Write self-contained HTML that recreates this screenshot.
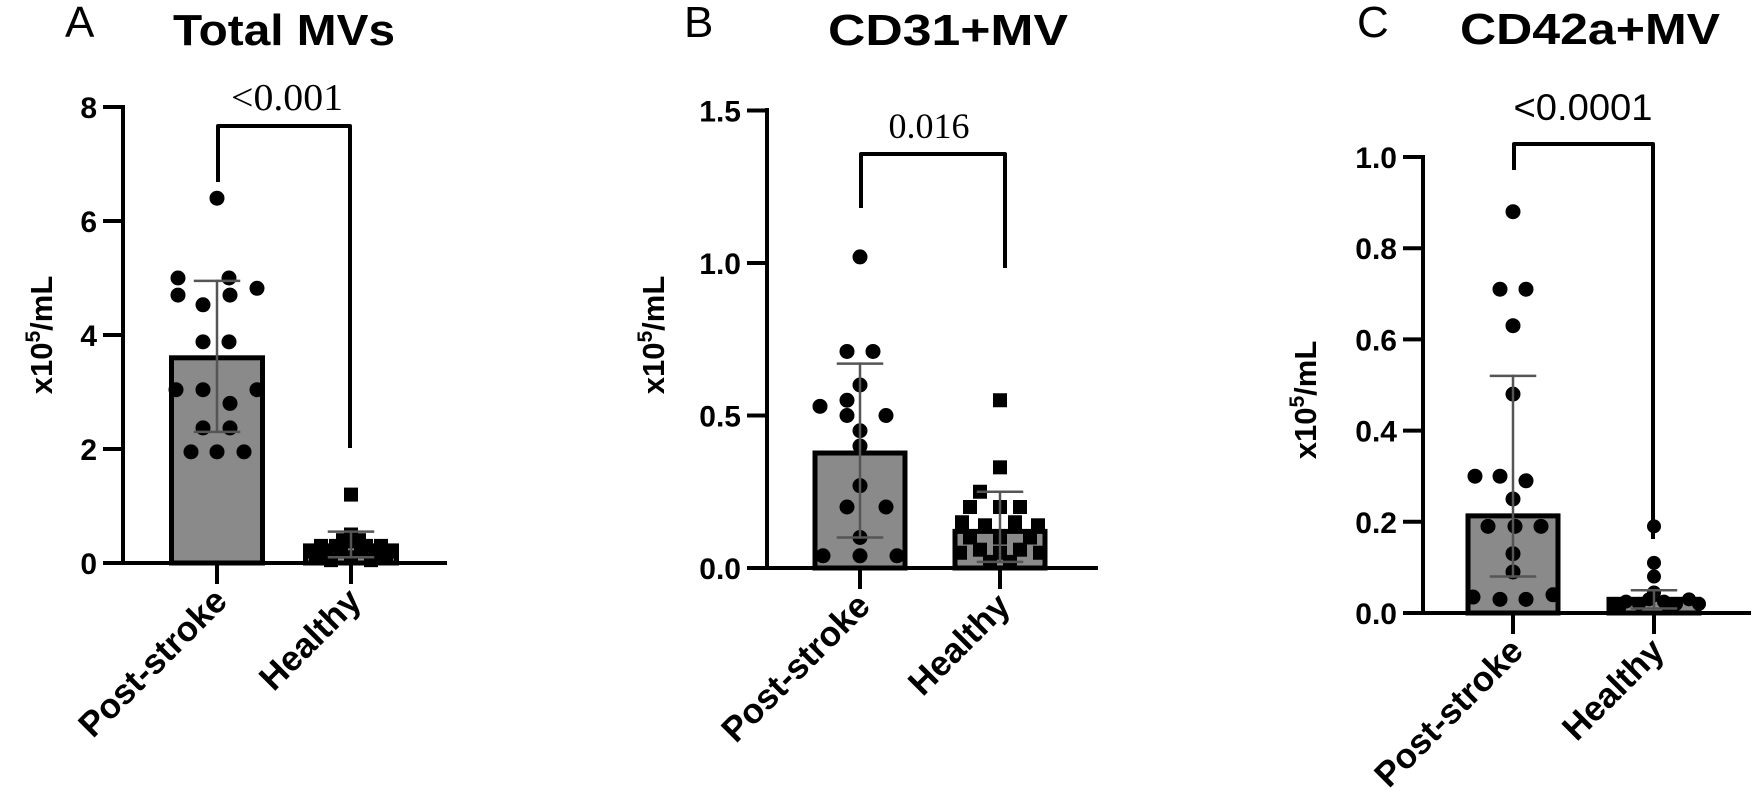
<!DOCTYPE html>
<html><head><meta charset="utf-8"><style>
html,body{margin:0;padding:0;background:#fff;}
svg{display:block;}
text{font-family:"Liberation Sans",Arial,sans-serif;}
</style></head><body>
<svg id="s" width="1756" height="802" viewBox="0 0 1756 802" xmlns="http://www.w3.org/2000/svg">
<text x="65" y="37" font-size="44">A</text>
<text x="173" y="45" font-size="44" font-weight="bold" textLength="222" lengthAdjust="spacingAndGlyphs">Total MVs</text>
<text x="684" y="37" font-size="44">B</text>
<text x="828" y="45" font-size="44" font-weight="bold" textLength="240" lengthAdjust="spacingAndGlyphs">CD31+MV</text>
<text x="1357" y="37" font-size="44">C</text>
<text x="1460" y="44" font-size="44" font-weight="bold" textLength="260" lengthAdjust="spacingAndGlyphs">CD42a+MV</text>
<text transform="translate(52,335) rotate(-90)" text-anchor="middle" font-size="31" font-weight="bold">x10<tspan dy="-12" font-size="21">5</tspan><tspan dy="12">/mL</tspan></text>
<text transform="translate(664,335) rotate(-90)" text-anchor="middle" font-size="31" font-weight="bold">x10<tspan dy="-12" font-size="21">5</tspan><tspan dy="12">/mL</tspan></text>
<text transform="translate(1316,400) rotate(-90)" text-anchor="middle" font-size="31" font-weight="bold">x10<tspan dy="-12" font-size="21">5</tspan><tspan dy="12">/mL</tspan></text>
<text x="287" y="110" text-anchor="middle" font-size="38" style="font-family:'Liberation Serif',serif" textLength="112" lengthAdjust="spacingAndGlyphs">&lt;0.001</text>
<text x="929" y="138" text-anchor="middle" font-size="36" style="font-family:'Liberation Serif',serif">0.016</text>
<text x="1583" y="120" text-anchor="middle" font-size="37" textLength="139" lengthAdjust="spacingAndGlyphs">&lt;0.0001</text>
</svg>
<script>
var S=document.getElementById('s'),NS='http://www.w3.org/2000/svg';
function el(t,a,txt){var e=document.createElementNS(NS,t);for(var k in a)e.setAttribute(k,a[k]);if(txt!==undefined)e.textContent=txt;S.appendChild(e);return e;}
function line(x1,y1,x2,y2,w,c){el('line',{x1:x1,y1:y1,x2:x2,y2:y2,stroke:c||'#000','stroke-width':w||4,'stroke-linecap':'square'});}
function panel(p){
  var Y=function(v){return p.y0-v*p.s;};
  [[p.pc,p.m1],[p.hc,p.m2]].forEach(function(b){
    el('rect',{x:b[0]-p.bw/2,y:Y(b[1]),width:p.bw,height:p.y0-Y(b[1]),fill:'#8a8a8a',stroke:'#000','stroke-width':5});
  });
  p.p1.forEach(function(d){el('circle',{cx:p.pc+d[0],cy:Y(d[1]),r:7.5,fill:'#000'});});
  p.p2.forEach(function(d){
    if(p.sq) el('rect',{x:p.hc+d[0]-7,y:Y(d[1])-7,width:14,height:14,fill:'#000'});
    else el('circle',{cx:p.hc+d[0],cy:Y(d[1]),r:7,fill:'#000'});
  });
  [[p.pc,p.e1],[p.hc,p.e2]].forEach(function(b){
    line(b[0],Y(b[1][0]),b[0],Y(b[1][1]),2.5,'#555');
    line(b[0]-22,Y(b[1][1]),b[0]+22,Y(b[1][1]),2.5,'#555');
    line(b[0]-22,Y(b[1][0]),b[0]+22,Y(b[1][0]),2.5,'#555');
  });
  line(p.ax,p.top,p.ax,p.y0,4);
  line(p.ax,p.y0,p.xend,p.y0,4);
  p.ticks.forEach(function(t){
    line(p.ax-18,Y(t[0]),p.ax,Y(t[0]),4);
    el('text',{x:p.ax-26,y:Y(t[0])+11,'text-anchor':'end','font-size':30,'font-weight':'bold'},t[1]);
  });
  line(p.pc,p.y0,p.pc,p.y0+19,4);line(p.hc,p.y0,p.hc,p.y0+19,4);
  el('text',{transform:'translate('+(p.pc+12)+','+(p.y0+40)+') rotate(-45)','text-anchor':'end','font-size':35,'font-weight':'bold'},'Post-stroke');
  el('text',{transform:'translate('+(p.hc+12)+','+(p.y0+40)+') rotate(-45)','text-anchor':'end','font-size':35,'font-weight':'bold'},'Healthy');
  var b=p.br;
  el('path',{d:'M'+b[0]+' '+b[1]+' L'+b[0]+' '+b[2]+' L'+b[3]+' '+b[2]+' L'+b[3]+' '+b[4],fill:'none',stroke:'#000','stroke-width':4,'stroke-linejoin':'round'});
}
panel({ax:123,y0:563,s:57,top:107,xend:445,pc:217,hc:351,bw:91,m1:3.6,m2:0.3,e1:[2.3,4.95],e2:[0.1,0.55],sq:true,
 ticks:[[0,'0'],[2,'2'],[4,'4'],[6,'6'],[8,'8']],br:[218,182,126,350,448],
 p1:[[0,6.4],[-39,5.0],[12,5.0],[40,4.82],[-39,4.7],[13,4.7],[-14,4.53],[-14,3.88],[12,3.88],[-41,3.04],[-14,3.04],[40,3.04],[13,2.8],[-14,2.37],[13,2.37],[-26,1.95],[0,1.95],[27,1.95]],
 p2:[[0,1.2],[0,0.5],[-8,0.4],[8,0.4],[-30,0.3],[-15,0.3],[15,0.3],[30,0.3],[-40,0.2],[-25,0.15],[-10,0.2],[10,0.2],[25,0.15],[40,0.2],[-35,0.1],[0,0.1],[35,0.1],[-20,0.05],[20,0.05]]});
panel({ax:767,y0:568,s:305,top:110,xend:1096,pc:860,hc:1000,bw:90,m1:0.377,m2:0.12,e1:[0.10,0.67],e2:[0.02,0.25],sq:true,
 ticks:[[0,'0.0'],[0.5,'0.5'],[1,'1.0'],[1.5,'1.5']],br:[861,208,154,1005,268],
 p1:[[0,1.02],[-13,0.71],[13,0.71],[0,0.60],[-40,0.53],[-13,0.55],[-13,0.50],[26,0.50],[0,0.45],[0,0.40],[0,0.27],[-13,0.20],[26,0.20],[0,0.10],[-37,0.04],[37,0.04],[0,0.04]],
 p2:[[0,0.55],[0,0.33],[-20,0.25],[-30,0.2],[0,0.2],[20,0.2],[-38,0.15],[-15,0.14],[15,0.15],[38,0.14],[-30,0.1],[0,0.1],[30,0.1],[-40,0.05],[-20,0.06],[0,0.05],[20,0.06],[40,0.05],[-10,0.02],[10,0.02]]});
panel({ax:1423,y0:613,s:456,top:157,xend:1749,pc:1513,hc:1654,bw:90,m1:0.213,m2:0.03,e1:[0.08,0.52],e2:[0.01,0.05],sq:false,
 ticks:[[0,'0.0'],[0.2,'0.2'],[0.4,'0.4'],[0.6,'0.6'],[0.8,'0.8'],[1.0,'1.0']],br:[1514,170,144,1653,539],
 p1:[[0,0.88],[-13,0.71],[13,0.71],[0,0.63],[0,0.48],[-38,0.30],[-13,0.30],[13,0.29],[0,0.25],[-25,0.19],[2,0.19],[28,0.19],[0,0.13],[0,0.09],[-40,0.035],[-13,0.03],[13,0.03],[40,0.04]],
 p2:[[0,0.19],[0,0.11],[0,0.08],[0,0.045],[-40,0.02],[-28,0.025],[-15,0.02],[-5,0.03],[10,0.025],[22,0.02],[35,0.03],[45,0.02],[-35,0.01],[15,0.01]]});
</script>
</body></html>
